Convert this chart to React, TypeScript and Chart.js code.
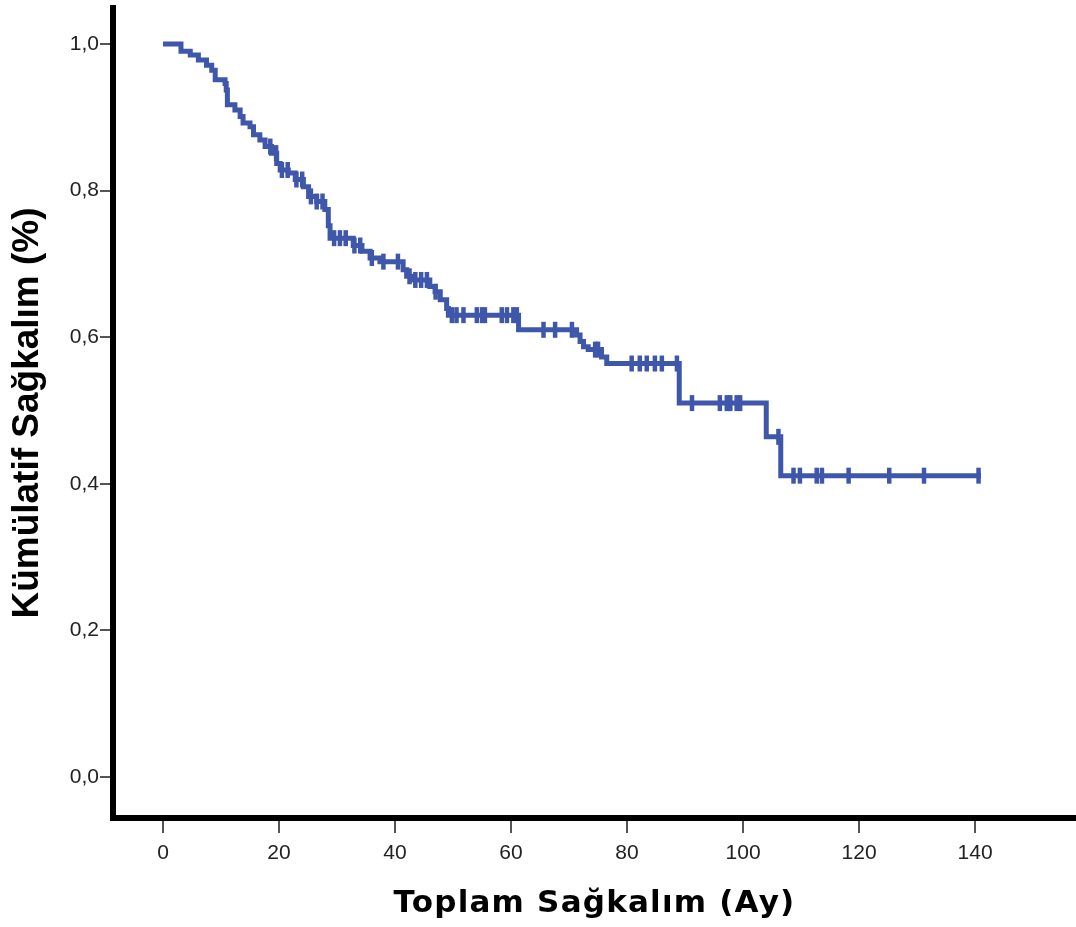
import React, { useEffect, useRef } from "react";
import { Chart, registerables } from "chart.js";

Chart.register(...registerables);

// Kaplan-Meier step curve: event times (months) and survival after each step
const stepTimes = [0, 3.1, 4.7, 6.1, 7.5, 8.4, 9.0, 10.7, 10.9, 11.1, 12.4, 13.3, 13.8, 15.0, 15.6, 16.7, 17.6, 18.7, 19.6, 20.2, 21.6, 22.8, 24.2, 25.1, 26.5, 27.9, 28.5, 28.8, 32.8, 34.3, 35.7, 37.4, 41.4, 42.0, 43.1, 46.0, 46.9, 47.8, 48.9, 49.2, 61.3, 71.3, 71.9, 72.5, 73.3, 75.6, 76.5, 89.0, 104.0, 106.5, 141];
const stepSurvival = [1.0, 0.99, 0.985, 0.978, 0.971, 0.964, 0.951, 0.946, 0.937, 0.917, 0.91, 0.901, 0.892, 0.887, 0.876, 0.869, 0.86, 0.851, 0.837, 0.828, 0.824, 0.815, 0.805, 0.792, 0.785, 0.774, 0.752, 0.735, 0.725, 0.717, 0.708, 0.703, 0.692, 0.683, 0.678, 0.669, 0.662, 0.651, 0.639, 0.63, 0.61, 0.603, 0.594, 0.587, 0.583, 0.573, 0.564, 0.51, 0.464, 0.411, 0.411];

// Censored observation times (months)
const censorTimes = [18.5, 19.5, 20.5, 21.5, 23, 24, 25.5, 26.5, 27.5, 29.5, 30.5, 31.5, 33, 34, 36, 38, 40.5, 42.5, 43.5, 44.5, 45.5, 47, 49.8, 50.6, 51.8, 54.1, 55.0, 55.5, 58.4, 59.3, 60.4, 61.0, 65.6, 67.6, 70.5, 74.5, 75, 80.8, 82.2, 83.4, 84.8, 86.0, 88.6, 91.2, 96.0, 97.2, 97.8, 98.9, 99.5, 106.1, 108.7, 109.8, 112.7, 113.6, 118.2, 125.2, 131.2, 140.6];

const xTicks = [0, 20, 40, 60, 80, 100, 120, 140];
const yTicks = [0, 0.2, 0.4, 0.6, 0.8, 1.0];

const xTitle = "Toplam Sağkalım (Ay)";
const yTitle = "Kümülatif Sağkalım (%)";

const LINE = "#3f57ab";
const FONT = "'Liberation Sans', Arial, sans-serif";
const XTITLE_FONT = "'DejaVu Sans', 'Liberation Sans', sans-serif";

function survivalAt(t: number): number {
  let s = stepSurvival[0];
  for (let i = 0; i < stepTimes.length; i++) {
    if (stepTimes[i] <= t) s = stepSurvival[i];
  }
  return s;
}

function fixScale(s: any, size: number, horizontal: boolean, spacing: string) {
  if (horizontal) s.height = size;
  else s.width = size;
  s.paddingLeft = 0;
  s.paddingRight = 0;
  s.paddingTop = 0;
  s.paddingBottom = 0;
  if (!s._spacedTitle) {
    const orig = s.drawTitle;
    s.drawTitle = function (this: any) {
      const c = this.ctx;
      c.save();
      (c as any).letterSpacing = spacing;
      orig.call(this);
      c.restore();
    };
    s._spacedTitle = true;
  }
}

export default function App() {
  const ref = useRef<HTMLCanvasElement | null>(null);
  useEffect(() => {
    if (!ref.current) return;
    const chart = new Chart(ref.current, {
      type: "line",
      data: {
        datasets: [
          {
            data: stepTimes.map((t, i) => ({ x: t, y: stepSurvival[i] })),
            borderColor: LINE,
            borderWidth: 5,
            pointRadius: 0,
            stepped: "before",
            fill: false,
          },
          {
            data: censorTimes.map((t) => ({ x: t, y: survivalAt(t) })),
            showLine: false,
            pointStyle: "line",
            rotation: 90,
            pointRadius: 8,
            pointBorderWidth: 4.5,
            pointBorderColor: LINE,
            borderColor: LINE,
            backgroundColor: LINE,
          } as any,
        ],
      },
      options: {
        responsive: false,
        animation: false,
        layout: { autoPadding: false, padding: { top: 8, right: 0, left: 0, bottom: 0 } },
        plugins: { legend: { display: false }, tooltip: { enabled: false } },
        scales: {
          x: {
            type: "linear",
            min: -8.62,
            max: 157.4,
            afterBuildTicks: (s: any) => {
              s.ticks = xTicks.map((v) => ({ value: v }));
            },
            afterFit: (s: any) => fixScale(s, 109, true, "1.2px"),
            border: { display: true, width: 6, color: "#000" },
            grid: { drawOnChartArea: false, drawTicks: true, tickLength: 15, color: "#555", lineWidth: 2 },
            ticks: {
              autoSkip: false,
              maxRotation: 0,
              padding: 8,
              color: "#222",
              font: { family: FONT, size: 21 },
              callback: (v: any) => String(v),
            },
            title: {
              display: true,
              text: xTitle,
              color: "#000",
              font: { family: XTITLE_FONT, size: 31, weight: "bold" },
              padding: { top: 0, bottom: 4 },
            },
          },
          y: {
            type: "linear",
            min: -0.056,
            max: 1.049,
            afterBuildTicks: (s: any) => {
              s.ticks = yTicks.map((v) => ({ value: v }));
            },
            afterFit: (s: any) => fixScale(s, 113, false, "0px"),
            border: { display: true, width: 6, color: "#000" },
            grid: { drawOnChartArea: false, drawTicks: true, tickLength: 13, color: "#555", lineWidth: 2 },
            ticks: {
              autoSkip: false,
              padding: 1,
              color: "#222",
              font: { family: FONT, size: 21 },
              callback: (v: any) => Number(v).toFixed(1).replace(".", ","),
            },
            title: {
              display: true,
              text: yTitle,
              color: "#000",
              font: { family: FONT, size: 37, weight: "bold" },
              padding: { top: 6, bottom: 0 },
            },
          },
        },
      },
    });
    return () => chart.destroy();
  }, []);
  return (
    <div style={{ position: "fixed", left: 0, top: 0, width: 1076, height: 927, background: "#fff" }}>
      <canvas ref={ref} width={1076} height={927} style={{ display: "block" }} />
    </div>
  );
}
